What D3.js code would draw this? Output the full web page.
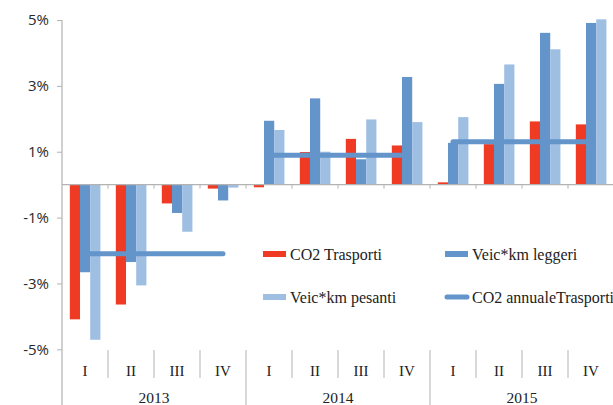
<!DOCTYPE html>
<html>
<head>
<meta charset="utf-8">
<script src="https://cdn.jsdelivr.net/npm/d3@7"></script>
<style>
  html, body { margin: 0; padding: 0; background: #fff; overflow: hidden; }
  svg { display: block; }
</style>
</head>
<body>
<svg id="chart" width="613" height="405"></svg>
<script>
// Quarterly variation (%) of transport CO2 and vehicle-km
const years = ["2013", "2014", "2015"];
const quarters = ["I", "II", "III", "IV"];
const co2Trasporti = [-4.09, -3.64, -0.57, -0.12, -0.08, 0.99, 1.39, 1.19, 0.07, 1.23, 1.92, 1.83];
const veicLeggeri = [-2.66, -2.35, -0.86, -0.48, 1.94, 2.62, 0.77, 3.27, 1.27, 3.06, 4.61, 4.91];
const veicPesanti = [-4.71, -3.06, -1.43, -0.09, 1.66, 1.00, 1.98, 1.90, 2.05, 3.65, 4.11, 5.02];
const co2Annuale = [-2.10, 0.89, 1.30];
const yTicks = [-5, -3, -1, 1, 3, 5];

const seriesNames = ["CO2 Trasporti", "Veic*km leggeri", "Veic*km pesanti"];
const seriesValues = [co2Trasporti, veicLeggeri, veicPesanti];
const colors = ["#EF3B24", "#6394CA", "#9EBEE2"];
const lineName = "CO2 annualeTrasporti";

const cats = [];
years.forEach(y => quarters.forEach(q => cats.push(y + "-" + q)));

const svg = d3.select("#chart");
const axisColor = "#b3b3b3";

const x = d3.scaleBand().domain(cats).range([62, 614]).padding(0);
const bw = x.bandwidth();
const xs = d3.scaleBand().domain(seriesNames).range([bw * 0.17, bw * 0.835]).padding(0);
const y = d3.scaleLinear().domain([-5, 5]).range([349.3, 20]);

// bars
const g = svg.append("g");
seriesNames.forEach((name, si) => {
  g.selectAll(null)
    .data(seriesValues[si].map((v, i) => ({ v, c: cats[i] })))
    .join("rect")
    .attr("x", d => x(d.c) + xs(name))
    .attr("width", xs.bandwidth())
    .attr("y", d => y(Math.max(0, d.v)))
    .attr("height", d => Math.abs(y(d.v) - y(0)))
    .attr("fill", colors[si]);
});

// zero axis with ticks at quarter boundaries
svg.append("line")
  .attr("x1", 62).attr("x2", 614)
  .attr("y1", y(0)).attr("y2", y(0))
  .attr("stroke", axisColor).attr("stroke-width", 1.2);
cats.forEach((c, i) => {
  if (i === 0) return;
  svg.append("line")
    .attr("x1", x(c)).attr("x2", x(c))
    .attr("y1", y(0)).attr("y2", y(0) + 4)
    .attr("stroke", axisColor).attr("stroke-width", 1);
});

// y axis
const yAxis = d3.axisLeft(y).tickValues(yTicks).tickSize(5).tickPadding(8)
  .tickFormat(d => d + "%");
const ya = svg.append("g").attr("transform", "translate(62,0)").call(yAxis);
ya.select(".domain").remove();
ya.selectAll(".tick line").attr("stroke", axisColor);
ya.selectAll(".tick text")
  .attr("fill", "#2a2a2a")
  .style("font-family", "'Open Sans', 'Liberation Sans', sans-serif")
  .style("font-size", "15px");
svg.append("line")
  .attr("x1", 62).attr("x2", 62).attr("y1", y(5)).attr("y2", 405)
  .attr("stroke", axisColor).attr("stroke-width", 1.2);

// annual CO2 line per year
const lineGen = d3.line().x(d => d[0]).y(d => d[1]);
years.forEach((yr, yi) => {
  const first = x(yr + "-I") + bw / 2;
  const last = x(yr + "-IV") + bw / 2;
  svg.append("path")
    .attr("d", lineGen([[first, y(co2Annuale[yi])], [last, y(co2Annuale[yi])]]))
    .attr("stroke", colors[1]).attr("stroke-width", 5)
    .attr("stroke-linecap", "round").attr("fill", "none");
});

// category labels and separators
const serif = "'Liberation Serif', 'Times New Roman', serif";
cats.forEach((c, i) => {
  const isYear = i % 4 === 0;
  if (i > 0) {
    svg.append("line")
      .attr("x1", x(c)).attr("x2", x(c))
      .attr("y1", 350).attr("y2", isYear ? 405 : 378)
      .attr("stroke", axisColor).attr("stroke-width", 1);
  }
  svg.append("text")
    .attr("x", x(c) + bw / 2).attr("y", 376)
    .attr("text-anchor", "middle")
    .attr("fill", "#222")
    .style("font-family", serif).style("font-size", "15px")
    .text(quarters[i % 4]);
});
svg.append("line")
  .attr("x1", 614).attr("x2", 614).attr("y1", 350).attr("y2", 405)
  .attr("stroke", axisColor);
years.forEach(yr => {
  const cx = (x(yr + "-I") + x(yr + "-IV") + bw) / 2;
  svg.append("text")
    .attr("x", cx).attr("y", 403)
    .attr("text-anchor", "middle")
    .attr("fill", "#222")
    .style("font-family", serif).style("font-size", "15.5px")
    .text(yr);
});

// legend
const legendItems = [
  { name: seriesNames[0], color: colors[0], kind: "rect", lx: 263, ly: 254 },
  { name: seriesNames[1], color: colors[1], kind: "rect", lx: 445, ly: 254 },
  { name: seriesNames[2], color: colors[2], kind: "rect", lx: 263, ly: 297 },
  { name: lineName, color: colors[1], kind: "line", lx: 445, ly: 297 }
];
legendItems.forEach(it => {
  if (it.kind === "rect") {
    svg.append("rect")
      .attr("x", it.lx).attr("y", it.ly - 3)
      .attr("width", 23).attr("height", 6)
      .attr("fill", it.color);
  } else {
    svg.append("line")
      .attr("x1", it.lx + 2).attr("x2", it.lx + 22)
      .attr("y1", it.ly).attr("y2", it.ly)
      .attr("stroke", it.color).attr("stroke-width", 5)
      .attr("stroke-linecap", "round");
  }
  svg.append("text")
    .attr("x", it.lx + 27).attr("y", it.ly + 5.5)
    .attr("fill", "#222")
    .style("font-family", serif).style("font-size", "16px")
    .text(it.name);
});
</script>
</body>
</html>
